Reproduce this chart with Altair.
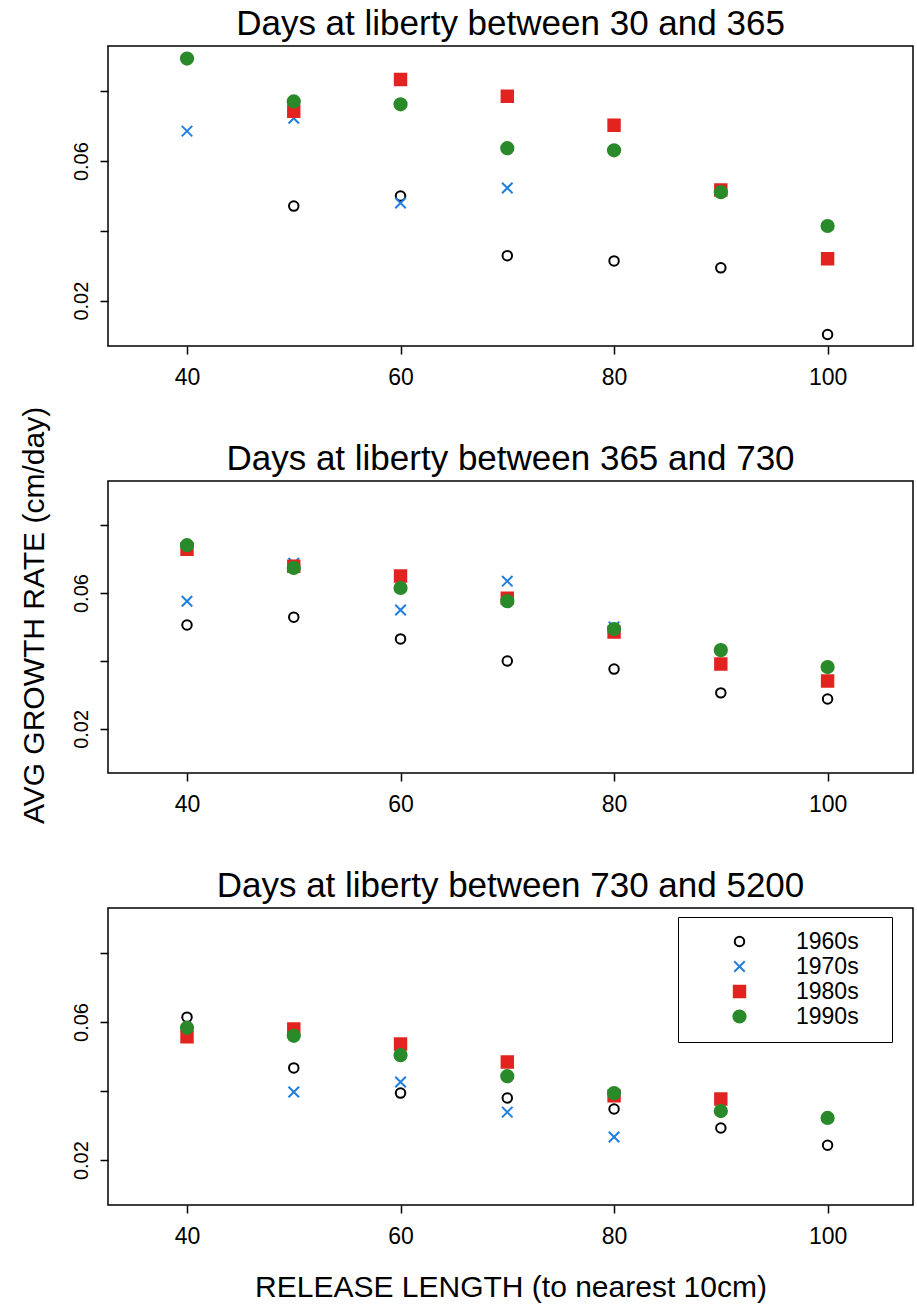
import altair as alt
import pandas as pd

lengths = [40, 50, 60, 70, 80, 90, 100]
decades = ["1960s", "1970s", "1980s", "1990s"]

titles = [
    "Days at liberty between 30 and 365",
    "Days at liberty between 365 and 730",
    "Days at liberty between 730 and 5200",
]

# panel 1: 30-365 days
p1_1960s = [None, 0.0471, 0.0500, 0.0329, 0.0314, 0.0294, 0.0103]
p1_1970s = [0.0686, 0.0723, 0.0480, 0.0523, None, None, None]
p1_1980s = [None, 0.0743, 0.0834, 0.0786, 0.0703, 0.0517, 0.0320]
p1_1990s = [0.0894, 0.0771, 0.0763, 0.0637, 0.0631, 0.0511, 0.0414]

# panel 2: 365-730 days
p2_1960s = [0.0506, 0.0529, 0.0465, 0.0400, 0.0376, 0.0306, 0.0288]
p2_1970s = [0.0576, 0.0688, 0.0550, 0.0635, 0.0500, None, None]
p2_1980s = [0.0729, 0.0679, 0.0650, 0.0585, 0.0485, 0.0391, 0.0341]
p2_1990s = [0.0741, 0.0674, 0.0615, 0.0576, 0.0494, 0.0432, 0.0382]

# panel 3: 730-5200 days
p3_1960s = [0.0614, 0.0467, 0.0394, 0.0380, 0.0348, 0.0293, 0.0243]
p3_1970s = [None, 0.0397, 0.0426, 0.0339, 0.0267, None, None]
p3_1980s = [0.0557, 0.0580, 0.0536, 0.0484, 0.0386, 0.0377, None]
p3_1990s = [0.0583, 0.0560, 0.0504, 0.0443, 0.0394, 0.0342, 0.0322]

panels = [
    [p1_1960s, p1_1970s, p1_1980s, p1_1990s],
    [p2_1960s, p2_1970s, p2_1980s, p2_1990s],
    [p3_1960s, p3_1970s, p3_1980s, p3_1990s],
]

FONT = "Liberation Sans"
X_PATH = "M-1,-1L1,1M-1,1L1,-1"
shape_scale = alt.Scale(domain=decades, range=["circle", X_PATH, "square", "circle"])
stroke_scale = alt.Scale(domain=decades, range=["#000000", "#1f7fe0", "#e2231f", "#2a8a2a"])
fill_scale = alt.Scale(domain=decades, range=["transparent", "transparent", "#e2231f", "#2a8a2a"])
size_scale = alt.Scale(domain=decades, range=[90, 150, 110, 120])

heights = [300, 292, 297]


def make_df(series):
    rows = []
    for dec, vals in zip(decades, series):
        for L, v in zip(lengths, vals):
            if v is not None:
                rows.append({"length": L, "rate": v, "decade": dec})
    return pd.DataFrame(rows)


def panel(i):
    df = make_df(panels[i])
    if i == 2:
        leg = alt.Legend(
            title="\u00a0", titleOrient="right", titlePadding=20, titleFontSize=8,
            orient="none", legendX=570, legendY=9,
            strokeColor="black", fillColor="white", padding=13,
            labelFontSize=23, labelFont=FONT, labelColor="black",
            symbolOffset=37, labelOffset=45, rowPadding=1,
            symbolStrokeWidth=2,
        )
    else:
        leg = None
    yaxis = alt.Axis(
        values=[0.02, 0.04, 0.06, 0.08],
        labelExpr="(abs(datum.value-0.02)<0.001 || abs(datum.value-0.06)<0.001) ? format(datum.value, '.2f') : ''",
        labelAngle=270, labelFontSize=20, labelPadding=9,
        title=None,
        grid=False, domain=False,
    )
    xaxis = alt.Axis(
        values=[40, 60, 80, 100], labelFontSize=23, labelPadding=12,
        title="RELEASE LENGTH (to nearest 10cm)" if i == 2 else None,
        titleFontSize=30, titleFont=FONT, titleFontWeight="normal",
        titlePadding=24, titleColor="black",
        grid=False, domain=False,
    )
    return alt.Chart(
        df,
        title=alt.TitleParams(titles[i], fontSize=35, font=FONT, fontWeight="normal",
                              color="black", anchor="middle", offset=4),
    ).mark_point(
        opacity=1, strokeWidth=2
    ).encode(
        x=alt.X("length:Q", scale=alt.Scale(domain=[32.6, 108], nice=False, zero=False), axis=xaxis),
        y=alt.Y("rate:Q", scale=alt.Scale(domain=[0.007, 0.093], nice=False, zero=False), axis=yaxis),
        shape=alt.Shape("decade:N", scale=shape_scale, legend=leg),
        stroke=alt.Stroke("decade:N", scale=stroke_scale, legend=leg),
        fill=alt.Fill("decade:N", scale=fill_scale, legend=leg),
        size=alt.Size("decade:N", scale=size_scale, legend=leg),
        order=alt.Order("decade:N"),
    ).properties(width=805, height=heights[i])


chart = alt.vconcat(
    panel(0), panel(1), panel(2), spacing=51,
    title=alt.TitleParams(
        "AVG GROWTH RATE (cm/day)", orient="left", anchor="middle",
        fontSize=30, font=FONT, fontWeight="normal", color="black", offset=20, dx=39,
    ),
).resolve_legend(
    shape="independent", stroke="independent", fill="independent", size="independent"
).properties(
    padding={"left": 20, "top": 6, "right": 0, "bottom": 0},
    background="white",
).configure_view(
    stroke="black", strokeWidth=1.5
).configure_axis(
    grid=False, domain=False, tickColor="black", tickWidth=1.5, tickSize=8,
    labelColor="black", labelFont=FONT,
)

chart.save("out.html", embed_options={"renderer": "svg", "actions": False})
